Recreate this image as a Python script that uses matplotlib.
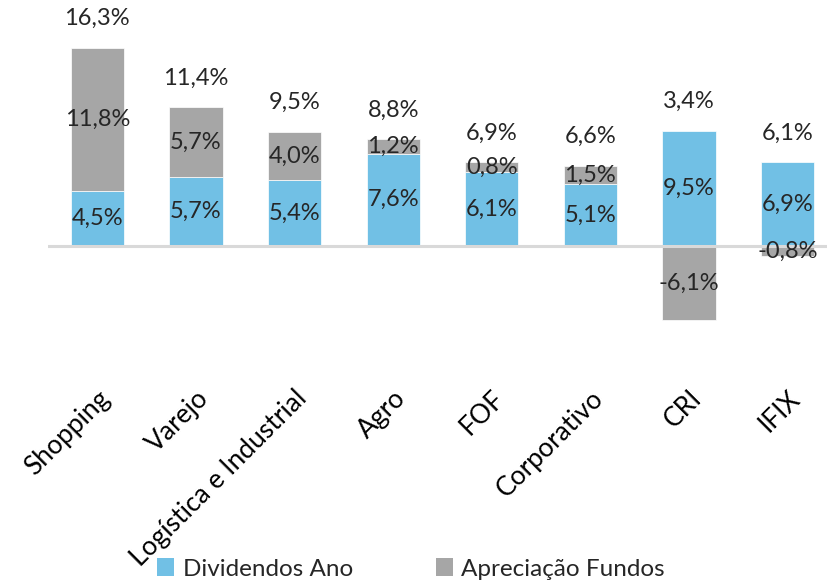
import matplotlib
matplotlib.use("Agg")
import matplotlib.pyplot as plt
from matplotlib.patches import Patch

categories = ["Shopping", "Varejo", "Logística e Industrial", "Agro", "FOF",
              "Corporativo", "CRI", "IFIX"]
dividendos = [4.5, 5.7, 5.4, 7.6, 6.1, 5.1, 9.5, 6.9]
apreciacao = [11.8, 5.7, 4.0, 1.2, 0.8, 1.5, -6.1, -0.8]
totais = [16.3, 11.4, 9.5, 8.8, 6.9, 6.6, 3.4, 6.1]

BLUE = "#71C0E5"
GRAY = "#A6A6A6"
TXT = "#262626"
plt.rcParams['font.family'] = ['Lato', 'DejaVu Sans']

def fmt(v):
    return f"{v:.1f}".replace('.', ',') + '%'

W, H = 828, 585
fig = plt.figure(figsize=(W / 100, H / 100), dpi=100)
ax = fig.add_axes([48 / W, (H - 380) / H, (W - 48) / W, 380 / H])

x = list(range(len(categories)))
bw = 0.54
ax.bar(x, dividendos, width=bw, color=BLUE, edgecolor='white', linewidth=0.5, zorder=2)
bottoms = [d if a >= 0 else 0 for d, a in zip(dividendos, apreciacao)]
ax.bar(x, apreciacao, width=bw, bottom=bottoms, color=GRAY, edgecolor='white',
       linewidth=0.5, zorder=2)

ax.axhline(0, color='#D9D9D9', lw=2.2, zorder=3)

fs = 17
for i in x:
    ax.text(i, dividendos[i] / 2, fmt(dividendos[i]), ha='center', va='center',
            fontsize=fs, color=TXT, zorder=4)
    ax.text(i, bottoms[i] + apreciacao[i] / 2, fmt(apreciacao[i]), ha='center',
            va='center', fontsize=fs, color=TXT, zorder=4)
    top = dividendos[i] + max(apreciacao[i], 0)
    ax.annotate(fmt(totais[i]), (i, top), xytext=(0, 21), textcoords='offset points',
                ha='center', va='center', fontsize=fs, color=TXT)

ax.set_xlim(-0.5, 7.41)
ax.set_ylim(-(380 - 246) / 12.15, 246 / 12.15)
ax.set_xticks(x)
ax.set_xticklabels(categories, rotation=45, ha='right', rotation_mode='anchor',
                   fontsize=19, color='black')
ax.tick_params(axis='x', length=0, pad=4)
ax.set_yticks([])
for s in ax.spines.values():
    s.set_visible(False)

handles = [Patch(facecolor=BLUE, label='Dividendos Ano'),
           Patch(facecolor=GRAY, label='Apreciação Fundos')]
fig.legend(handles=handles, loc='lower center', bbox_to_anchor=(411 / W, -0.028),
           ncol=2, frameon=False, fontsize=17.5, handlelength=0.7, handleheight=0.7,
           handletextpad=0.35, columnspacing=3.4, labelcolor=TXT)

fig.savefig("out.png", dpi=100)
